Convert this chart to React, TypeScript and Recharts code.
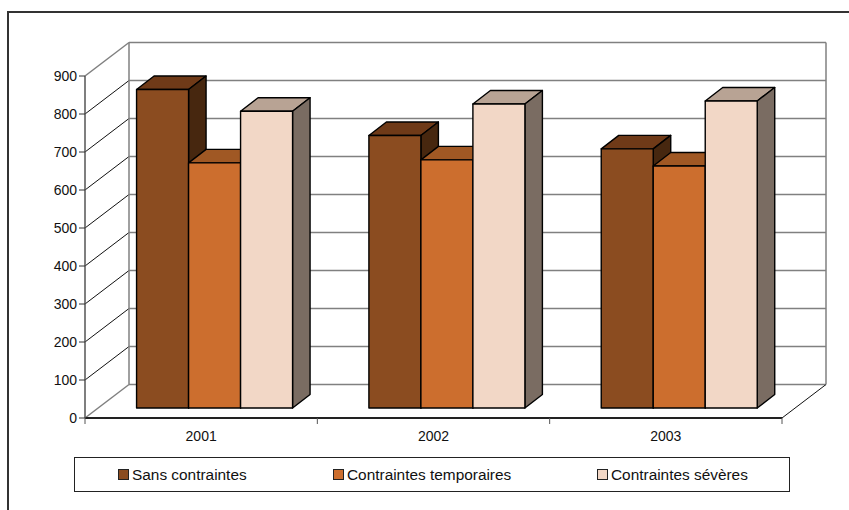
import React from 'react';
import { BarChart, Bar, XAxis, YAxis, CartesianGrid, Legend } from 'recharts';

const years = ['2001', '2002', '2003'];
const sansContraintes = [838, 717, 682];
const temporaires = [645, 653, 637];
const severes = [781, 800, 808];
const yTicks = [0, 100, 200, 300, 400, 500, 600, 700, 800, 900];

const data = years.map((year, i) => ({
  year,
  sans: sansContraintes[i],
  temp: temporaires[i],
  sev: severes[i],
}));

// front plane of the plot: x 85..782, y 76..418
const WIDTH = 849;
const HEIGHT = 510;
const PLOT_TOP = 76;
const PLOT_BOTTOM = 418;
const WALL_DX = 44; // depth of the back wall
const WALL_DY = -33.5;
const BAR_DX = 13; // bars sit inside the floor
const BAR_DY = -10;
const BAR_DEPTH_X = 17.5;
const BAR_DEPTH_Y = -13.5;
const FONT = '"Liberation Sans", Arial, sans-serif';

const Bar3D = (topColor: string, sideColor: string) => (props: any) => {
  const { x, y, width, height, fill } = props;
  const l = x + BAR_DX;
  const t = y + BAR_DY;
  const r = l + width;
  const b = t + height;
  const line = { stroke: '#000', strokeWidth: 1.4, strokeLinejoin: 'round' as const };
  return (
    <g>
      <polygon
        points={`${l},${t} ${l + BAR_DEPTH_X},${t + BAR_DEPTH_Y} ${r + BAR_DEPTH_X},${t + BAR_DEPTH_Y} ${r},${t}`}
        fill={topColor}
        {...line}
      />
      <polygon
        points={`${r},${t} ${r + BAR_DEPTH_X},${t + BAR_DEPTH_Y} ${r + BAR_DEPTH_X},${b + BAR_DEPTH_Y} ${r},${b}`}
        fill={sideColor}
        {...line}
      />
      <rect x={l} y={t} width={width} height={height} fill={fill} {...line} />
    </g>
  );
};

// each horizontal grid value gets a back wall line and a diagonal on the left wall
const gridLine = (props: any) => {
  const { x1, x2, y1, key } = props;
  const isTop = Math.abs(y1 - PLOT_TOP) < 1;
  const isBottom = Math.abs(y1 - PLOT_BOTTOM) < 1;
  const backX1 = x1 + WALL_DX;
  const backX2 = x2 + WALL_DX;
  const backY = y1 + WALL_DY;
  return (
    <g key={key}>
      <line x1={backX1} y1={backY} x2={backX2} y2={backY} stroke="#808080" strokeWidth={1.5} />
      <line
        x1={x1}
        y1={y1}
        x2={backX1}
        y2={backY}
        stroke={isTop || isBottom ? '#808080' : '#111'}
        strokeWidth={isTop || isBottom ? 1.5 : 1}
      />
      {isTop && (
        <>
          <line x1={backX1} y1={backY} x2={backX1} y2={PLOT_BOTTOM + WALL_DY} stroke="#808080" strokeWidth={1.5} />
          <line x1={backX2} y1={backY} x2={backX2} y2={PLOT_BOTTOM + WALL_DY} stroke="#808080" strokeWidth={1.5} />
        </>
      )}
      {isBottom && <line x1={x2} y1={y1} x2={backX2} y2={backY} stroke="#111" strokeWidth={1} />}
    </g>
  );
};

const YearTick = (props: any) => {
  const { x, y, payload, index } = props;
  const band = (782 - 85) / years.length;
  return (
    <g>
      <line x1={x - band / 2} y1={y} x2={x - band / 2} y2={y + 6} stroke="#555" strokeWidth={1} />
      {index === years.length - 1 && (
        <line x1={x + band / 2} y1={y} x2={x + band / 2} y2={y + 6} stroke="#555" strokeWidth={1} />
      )}
      <text x={x} y={y + 23} textAnchor="middle" fontSize={14} fontFamily={FONT} fill="#111">
        {payload.value}
      </text>
    </g>
  );
};

const legendPositions = [43, 258, 522];

const LegendBox = ({ payload }: any) => (
  <div
    style={{
      position: 'relative',
      width: 716,
      height: 35,
      boxSizing: 'border-box',
      border: '1px solid #222',
      background: '#fff',
      fontFamily: FONT,
      fontSize: 15.4,
      color: '#111',
    }}
  >
    {(payload || []).map((item: any, i: number) => (
      <div
        key={item.value}
        style={{ position: 'absolute', left: legendPositions[i], top: 8, whiteSpace: 'nowrap', lineHeight: '17px' }}
      >
        <span
          style={{
            display: 'inline-block',
            width: 9,
            height: 9,
            marginRight: 3,
            border: '1px solid #222',
            background: item.color,
          }}
        />
        {item.value}
      </div>
    ))}
  </div>
);

export default function App() {
  return (
    <div style={{ position: 'absolute', left: 0, top: 0, width: WIDTH, height: HEIGHT, overflow: 'hidden', background: '#fff' }}>
      <div
        style={{
          position: 'absolute',
          left: 7,
          top: 11,
          width: 900,
          height: 600,
          borderLeft: '2px solid #333',
          borderTop: '2px solid #333',
        }}
      />
      <BarChart
        width={WIDTH}
        height={HEIGHT}
        data={data}
        margin={{ top: PLOT_TOP, right: 67, left: 0, bottom: 18 }}
        barCategoryGap="16.6%"
        barGap={0}
        style={{ position: 'absolute', left: 0, top: 0 }}
      >
        <CartesianGrid horizontal={gridLine} vertical={false} />
        <XAxis
          dataKey="year"
          height={39}
          axisLine={{ stroke: '#222', strokeWidth: 2 }}
          tickLine={false}
          tickSize={0}
          tickMargin={0}
          tick={YearTick}
          interval={0}
        />
        <YAxis
          width={85}
          domain={[0, 900]}
          ticks={yTicks}
          interval={0}
          tickSize={6}
          tickMargin={2}
          axisLine={{ stroke: '#555', strokeWidth: 1.5 }}
          tickLine={{ stroke: '#333' }}
          tick={{ fontSize: 14, fontFamily: FONT, fill: '#111' }}
        />
        <Legend
          verticalAlign="bottom"
          itemSorter={null}
          content={<LegendBox />}
          wrapperStyle={{ left: 74, width: 716, height: 35 }}
        />
        <Bar dataKey="sans" name="Sans contraintes" fill="#8B4C20" isAnimationActive={false} shape={Bar3D('#6F3A18', '#47270F')} />
        <Bar dataKey="temp" name="Contraintes temporaires" fill="#CC6E2E" isAnimationActive={false} shape={Bar3D('#A05824', '#663717')} />
        <Bar dataKey="sev" name="Contraintes sévères" fill="#F2D7C6" isAnimationActive={false} shape={Bar3D('#B8A394', '#7A6C62')} />
      </BarChart>
    </div>
  );
}
